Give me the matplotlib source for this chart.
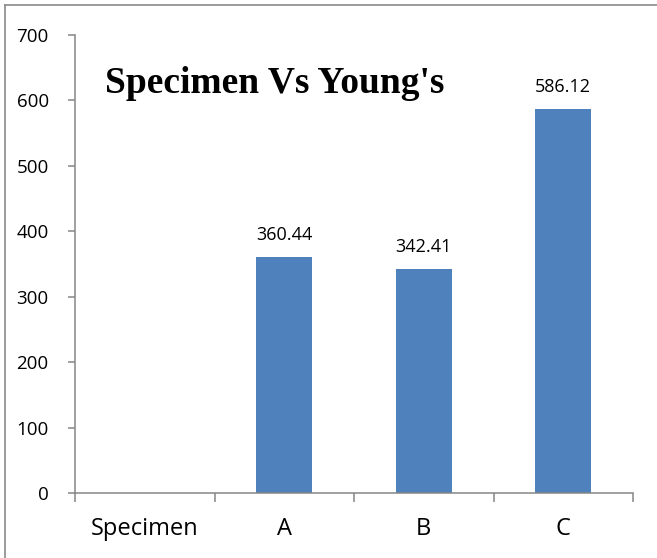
import matplotlib.pyplot as plt
from matplotlib.lines import Line2D
import numpy as np

categories = ['Specimen', 'A', 'B', 'C']
values = [None, 360.44, 342.41, 586.12]
labels = ['', '360.44', '342.41', '586.12']
yticks = [0, 100, 200, 300, 400, 500, 600, 700]

bar_color = '#4F81BD'
axis_color = '#868686'

fig = plt.figure(figsize=(6.57, 5.58), dpi=100)
ax = fig.add_axes([0.1142, 0.1165, 0.8493, 0.8208])

# frame: only the left and top edges show in the picture
fig.lines.append(Line2D([0.008, 0.008], [0, 0.991], transform=fig.transFigure,
                        color='#8a8a8a', linewidth=1.2))
fig.lines.append(Line2D([0.008, 1], [0.991, 0.991], transform=fig.transFigure,
                        color='#8a8a8a', linewidth=1.2))

x = np.arange(len(categories))
for i, v in enumerate(values):
    if v is None:
        continue
    ax.bar(x[i], v, width=0.4, color=bar_color)
    ax.text(x[i], v + 20, labels[i], ha='center', va='bottom',
            fontsize=13, family='Open Sans')

ax.set_xlim(-0.5, len(categories) - 0.5)
ax.set_ylim(0, 700)
ax.set_yticks(yticks)
ax.set_xticks(x)
ax.set_xticklabels(categories, family='Open Sans', fontsize=17)
ax.set_xticks(np.arange(-0.5, len(categories), 1), minor=True)
ax.tick_params(axis='x', which='major', length=0, pad=17)
ax.tick_params(axis='x', which='minor', length=6.5, width=1.1,
               direction='out', color=axis_color)
ax.tick_params(axis='y', length=5, width=1.1, direction='out',
               color=axis_color, pad=14)
for lab in ax.get_yticklabels():
    lab.set_family('Open Sans')
    lab.set_fontsize(13.5)

for s in ['top', 'right']:
    ax.spines[s].set_visible(False)
for s in ['left', 'bottom']:
    ax.spines[s].set_color(axis_color)
    ax.spines[s].set_linewidth(1.1)

ax.text(0.054, 0.895, "Specimen Vs Young's", transform=ax.transAxes,
        family='Liberation Serif', fontweight='bold', fontsize=27, va='center')

fig.savefig('out.png', dpi=100)
